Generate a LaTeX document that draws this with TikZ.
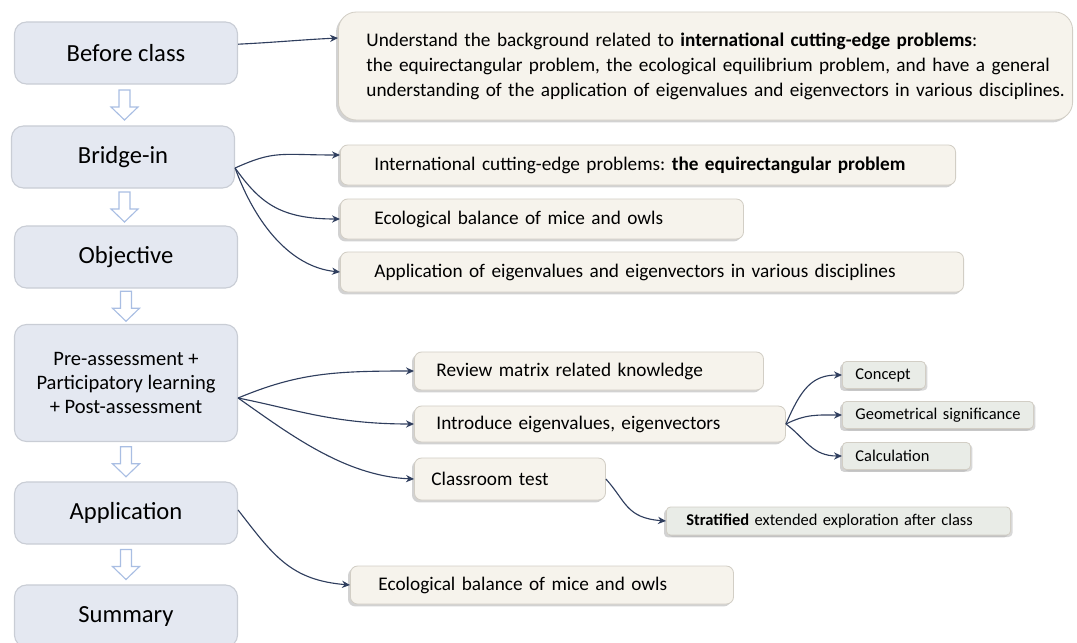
\documentclass[tikz,border=0pt]{standalone}
\usepackage{fontspec}
\setmainfont{Carlito}
\usetikzlibrary{arrows.meta,calc,shadows}
\frenchspacing

\definecolor{stagefill}{HTML}{E4E8F1}
\definecolor{stageline}{HTML}{C9CDD5}
\definecolor{itemfill}{HTML}{F6F3EC}
\definecolor{itemline}{HTML}{D2CEC5}
\definecolor{subfill}{HTML}{E9ECE7}
\definecolor{linkcol}{HTML}{2F3E5E}
\definecolor{arrowcol}{HTML}{A9BEE3}

\begin{document}
\begin{tikzpicture}[x=0.025cm, y=-0.025cm,
	stage/.style={draw=stageline, fill=stagefill, rounded corners=0.3cm, line width=0.8pt,
		minimum width=5.575cm, minimum height=1.55cm, align=center,
		font=\fontsize{17.5}{21}\selectfont},
	item/.style={draw=itemline, fill=itemfill, rounded corners=0.18cm, line width=0.6pt,
		anchor=west, align=left, minimum height=1cm, inner xsep=0.85cm,
		font=\fontsize{13.7}{17.8}\selectfont,
		drop shadow={shadow xshift=-0.06cm, shadow yshift=-0.06cm, fill=black!35}},
	subitem/.style={item, fill=subfill, font=\fontsize{11.7}{14}\selectfont,
		minimum height=0.675cm, inner xsep=0.325cm, rounded corners=0.1cm,
		drop shadow={shadow xshift=0.05cm, shadow yshift=-0.05cm, fill=black!30}},
	link/.style={draw=linkcol, line width=0.8pt, -{Stealth[length=2mm, width=1.8mm]}},
	hollow/.style={draw=arrowcol, fill=white, line width=0.8pt, line join=miter}
	]
	\useasboundingbox (0,0) rectangle (1077,643);

	% stages on the left
	\node[stage]	(before)	at (126,53)	{Before class};
	\node[stage]	(bridge)	at (123,157)	{Bridge-in};
	\node[stage]	(objective)	at (126,257)	{Objective};
	\node[stage, minimum height=2.925cm, font=\fontsize{14.6}{16.9}\selectfont]
				(assess)	at (126,383)	{Pre-assessment +\\Participatory learning\\+ Post-assessment};
	\node[stage]	(application)	at (126,513)	{Application};
	\node[stage]	(summary)	at (126,616)	{Summary};

	\foreach \a/\b in {before/bridge, bridge/objective, objective/assess, assess/application, application/summary} {
		\draw[hollow]	($(\a.south)!0.5!(\b.north)$) ++(-5.5,-15) -- ++(11,0) -- ++(0,17) -- ++(8,0)
					-- ++(-13.5,13) -- ++(-13.5,-13) -- ++(8,0) -- cycle;
	}

	% contents on the right
	\node[item, minimum height=2.7cm, inner xsep=0.7cm, text width=16.95cm, rounded corners=0.45cm]
				(background)	at (338,66)	{\mbox{Understand the background related to \textbf{international cutting-edge problems}:}\\
				\mbox{the equirectangular problem, the ecological equilibrium problem, and have a general}\\
				\mbox{understanding of the application of eigenvalues and eigenvectors in various disciplines.}};
	\node[item, text width=13.675cm]	(equirect)	at (340,165)	{International cutting-edge problems: \textbf{the equirectangular problem}};
	\node[item, text width=8.375cm]	(mice)		at (340,219)	{Ecological balance of mice and owls};
	\node[item, text width=13.875cm]	(disciplines)	at (340,272)	{Application of eigenvalues and eigenvectors in various disciplines};

	\node[item, inner xsep=0.55cm, text width=7.625cm, minimum height=0.95cm]	(review)	at (414,371)	{Review matrix related knowledge};
	\node[item, inner xsep=0.55cm, text width=8.175cm, minimum height=0.9cm]	(introduce)	at (414,424)	{Introduce eigenvalues, eigenvectors};
	\node[item, inner xsep=0.425cm, text width=3.925cm, minimum height=1.05cm]	(test)		at (414,479)	{Classroom test};

	\node[subitem, text width=1.425cm]	(concept)	at (842,375)	{Concept};
	\node[subitem, text width=4.125cm]	(geometry)	at (842,415)	{Geometrical significance};
	\node[subitem, text width=2.55cm]	(calculation)	at (842,456)	{Calculation};
	\node[subitem, inner xsep=0.5cm, text width=7.6cm, minimum height=0.7cm]	(explore)	at (666,521)	{\textbf{Stratified} extended exploration after class};

	\node[item, inner xsep=0.7cm, text width=8.175cm, minimum height=0.95cm]	(mice2)	at (350,585)	{Ecological balance of mice and owls};

	% connectors
	\draw[link]	([yshift=0.22cm]before.east) .. controls +(40,-2) and +(-40,2) .. ([yshift=0.7cm]background.west);

	\draw[link]	([yshift=-0.275cm]bridge.east) .. controls +(40,-18) and +(-60,0) .. ([yshift=0.25cm]equirect.west);
	\draw[link]	([yshift=-0.275cm]bridge.east) .. controls +(25,35) and +(-60,0) .. (mice.west);
	\draw[link]	([yshift=-0.275cm]bridge.east) .. controls +(20,55) and +(-50,-5) .. (disciplines.west);

	\draw[link]	([yshift=-0.375cm]assess.east) .. controls +(60,-25) and +(-80,0) .. (review.west);
	\draw[link]	([yshift=-0.375cm]assess.east) .. controls +(60,12) and +(-80,0) .. (introduce.west);
	\draw[link]	([yshift=-0.375cm]assess.east) .. controls +(50,35) and +(-70,-3) .. (test.west);

	\draw[link]	(introduce.east) .. controls +(15,-35) and +(-30,0) .. (concept.west);
	\draw[link]	(introduce.east) .. controls +(20,-10) and +(-25,0) .. (geometry.west);
	\draw[link]	(introduce.east) .. controls +(20,15) and +(-30,0) .. (calculation.west);

	\draw[link]	(test.east) .. controls +(20,22) and +(-40,-3) .. (explore.west);

	\draw[link]	([yshift=0.075cm]application.east) .. controls +(35,45) and +(-60,-5) .. (mice2.west);
\end{tikzpicture}
\end{document}
